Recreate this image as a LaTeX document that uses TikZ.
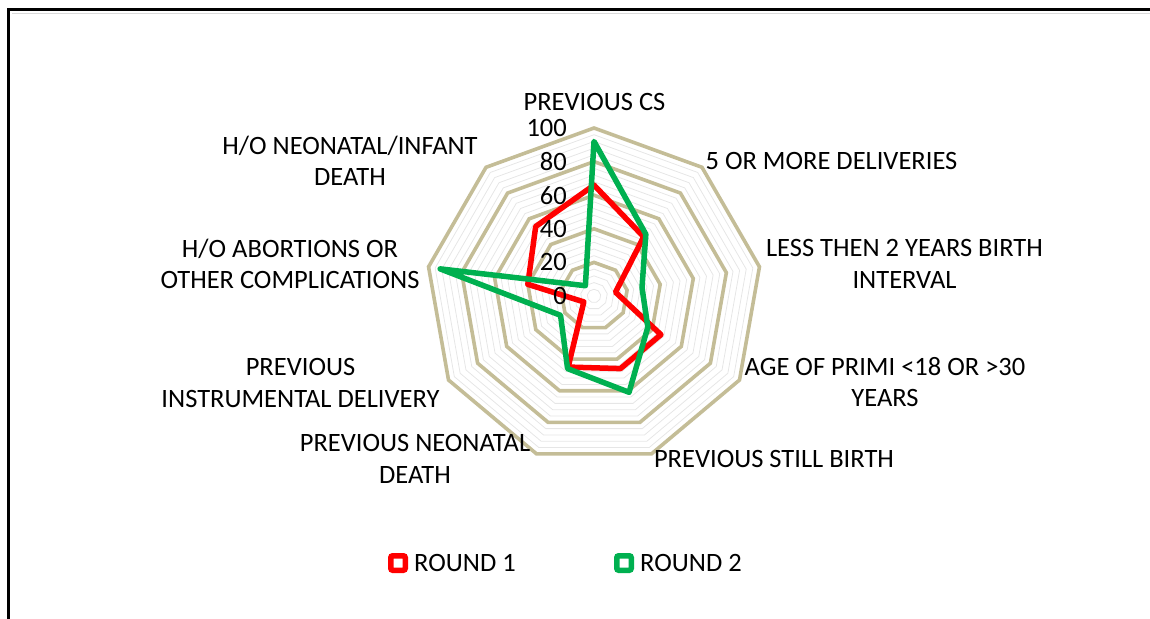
\documentclass[tikz,border=0pt]{standalone}
\usepackage{fontspec}
\setmainfont{Carlito}
\usetikzlibrary{positioning}
\definecolor{tanline}{HTML}{C4BD97}
\definecolor{minorline}{HTML}{E6E6E6}
\definecolor{roundone}{HTML}{FF0000}
\definecolor{roundtwo}{HTML}{00B050}
\tikzstyle{axislabel} = [align=center, inner sep=0pt, font=\fontsize{26.5}{31.5}\selectfont]
\tikzstyle{ticklabel} = [anchor=east, inner sep=0pt, font=\fontsize{26.5}{30}\selectfont]
\tikzstyle{majorring} = [draw=tanline, line width=3.6pt]
\tikzstyle{minorring} = [draw=minorline, line width=0.8pt]
\tikzstyle{seriesline} = [line width=5.5pt, line join=round]
\tikzstyle{legendmark} = [rectangle, rounded corners=2pt, line width=5.5pt, minimum size=14.5pt, inner sep=0pt, fill=white]
\tikzstyle{legendtext} = [inner sep=0pt, font=\fontsize{26.5}{30}\selectfont]

\begin{document}
\begin{tikzpicture}[x=1pt,y=-1pt]
		\useasboundingbox (0,0) rectangle (1150,618);
		% frame
		\draw[gray!30, line width=0.8pt] (12,13.5) -- (1160,13.5);
		\draw[line width=3pt] (8,640) -- (8,9.5) -- (1160,9.5);
		% rings and series
		\begin{scope}[shift={(594,296)}, y=1pt]
		\foreach \r in {4,8,...,96}
			\draw[minorring] (90:{1.68*\r}) \foreach \k in {1,...,8} {-- ({90-40*\k}:{1.68*\r})} -- cycle;
		\foreach \r in {20,40,...,100}
			\draw[majorring] (90:{1.68*\r}) \foreach \k in {1,...,8} {-- ({90-40*\k}:{1.68*\r})} -- cycle;
		\foreach \v [count=\i from 0] in {66,46,13,46,46,45,7,40,54}
			\coordinate (one\i) at ({90-40*\i}:{1.68*\v});
		\foreach \v [count=\i from 0] in {92,48,29,37,61,46,23,93,8}
			\coordinate (two\i) at ({90-40*\i}:{1.68*\v});
		\draw[seriesline, draw=roundone] (one0) -- (one1) -- (one2) -- (one3) -- (one4) -- (one5) -- (one6) -- (one7) -- (one8) -- cycle;
		\draw[seriesline, draw=roundtwo] (two0) -- (two1) -- (two2) -- (two3) -- (two4) -- (two5) -- (two6) -- (two7) -- (two8) -- cycle;
		\end{scope}
		% value labels
		\foreach \t in {0,20,...,100}
			\node[ticklabel] (tick\t) at (567,{296-1.68*\t}) {\t};
		% category labels
		\node[axislabel] (prevcs) at (594.5,102) {PREVIOUS CS};
		\node[axislabel] (fivedel) at (831.5,160.5) {5 OR MORE DELIVERIES};
		\node[axislabel] (interval) at (904.5,264) {LESS THEN 2 YEARS BIRTH\\INTERVAL};
		\node[axislabel] (primi) at (885,382) {AGE OF PRIMI <18 OR >30\\YEARS};
		\node[axislabel] (still) at (774,459) {PREVIOUS STILL BIRTH};
		\node[axislabel] (neodeath) at (415,459) {PREVIOUS NEONATAL\\DEATH};
		\node[axislabel] (instr) at (300.5,383) {PREVIOUS\\INSTRUMENTAL DELIVERY};
		\node[axislabel] (abort) at (290,264) {H/O ABORTIONS OR\\OTHER COMPLICATIONS};
		\node[axislabel] (infant) at (350,161) {H/O NEONATAL/INFANT\\DEATH};
		% legend
		\node[legendmark, draw=roundone] (mark1) at (398,563) {};
		\node[legendtext, right=6pt of mark1] (leg1) {ROUND 1};
		\node[legendmark, draw=roundtwo] (mark2) at (624,563) {};
		\node[legendtext, right=6pt of mark2] (leg2) {ROUND 2};
\end{tikzpicture}
\end{document}
